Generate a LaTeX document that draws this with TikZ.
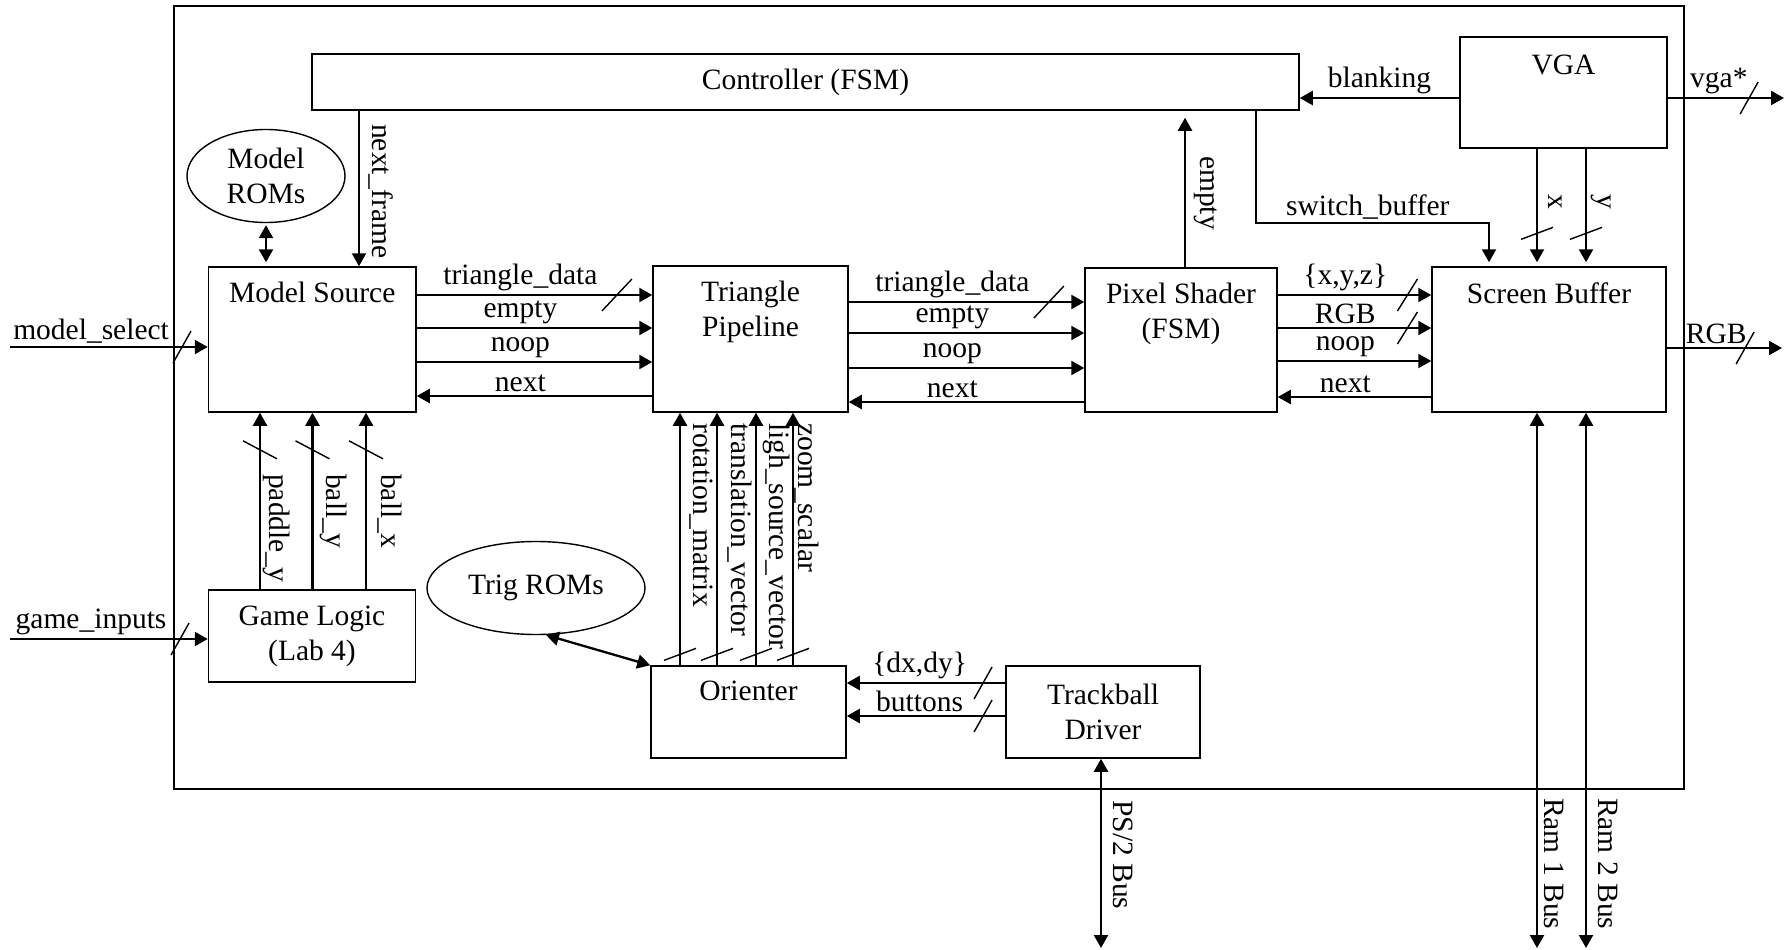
\documentclass[tikz,border=0pt]{standalone}
\usepackage{fontspec}
\setmainfont{Liberation Serif}
\usetikzlibrary{arrows.meta, positioning, shapes.geometric}
\tikzset{
  block/.style={rectangle, draw, line width=1.5pt, inner sep=0pt},
  rom/.style={ellipse, draw, line width=1.4pt, align=center, inner sep=0pt},
  top text/.style={anchor=north, yshift=-14pt, inner sep=2pt, align=center},
  arr/.style={-{Triangle[length=13pt, width=14pt]}, line width=2.3pt},
  biarr/.style={{Triangle[length=13pt, width=14pt]}-{Triangle[length=13pt, width=14pt]}, line width=2.3pt},
  sig/.style={above, inner sep=3pt},
  vsig/.style={rotate=-90, anchor=base west, inner sep=1pt},
  slash/.style={line width=1.4pt},
}
% bus marks: on a horizontal wire, on a vertical wire (/ and \)
\newcommand{\hbus}[2][9]{\draw[slash] (#2) ++(-#1,16) -- ++(2*#1,-32);}
\newcommand{\vbus}[1]{\draw[slash] (#1) ++(-16,6) -- ++(32,-12);}
\newcommand{\vbusb}[1]{\draw[slash] (#1) ++(-17,-9) -- ++(34,18);}

\begin{document}
\begin{tikzpicture}[x=1pt, y=-1pt, font=\fontsize{29.5}{35}\selectfont]
  \path[use as bounding box, fill=white] (0,0) rectangle (1792,950);

  % blocks
  \node[block, minimum width=1510, minimum height=783] (chip) at (929,397.5) {};
  \node[block, minimum width=987, minimum height=56] (ctrl) at (805.5,82) {Controller (FSM)};
  \node[block, minimum width=207, minimum height=111, label={[top text, yshift=-3pt]north:VGA}] (vga) at (1563.5,92.5) {};
  \node[block, minimum width=207.5, minimum height=145, label={[top text]north:Model Source}] (ms) at (312.25,339.5) {};
  \node[block, minimum width=195, minimum height=146, label={[top text]north:{Triangle\\Pipeline}}] (tp) at (750.5,339) {};
  \node[block, minimum width=192, minimum height=144, label={[top text]north:{Pixel Shader\\(FSM)}}] (ps) at (1181,340) {};
  \node[block, minimum width=234, minimum height=145, label={[top text]north:Screen Buffer}] (sb) at (1549,339.5) {};
  \node[block, minimum width=207, minimum height=92, align=center] (gl) at (312,636) {Game Logic\\(Lab 4)};
  \node[block, minimum width=195, minimum height=92, label={[top text]north:Orienter}] (ori) at (748.5,712) {};
  \node[block, minimum width=194, minimum height=92, align=center] (td) at (1103,712) {Trackball\\Driver};
  \node[rom, minimum width=158, minimum height=93] (mrom) at (266,176) {Model\\ROMs};
  \node[rom, minimum width=218, minimum height=93] (trom) at (536,588) {Trig ROMs};

  % free ends
  \coordinate (ms-in) at (10,347);
  \coordinate (gl-in) at (10,639);
  \coordinate (vga-out) at (1784,98);
  \coordinate (rgb-out) at (1782,348);
  \coordinate (sw-turn) at (1489,223);
  \coordinate (ps2-end) at (1101,948);
  \coordinate (ram1-end) at (1537,948);
  \coordinate (ram2-end) at (1586,948);

  % inputs
  \draw[arr] (ms-in) -- coordinate[pos=0.87] (b-ms) node[sig, pos=0.41] (l-ms) {model\_select} (ms.west |- ms-in);
  \hbus{b-ms}
  \draw[arr] (gl-in) -- coordinate[pos=0.86] (b-gl) node[sig, pos=0.41] (l-gl) {game\_inputs} (gl.west |- gl-in);
  \hbus{b-gl}

  % game logic -> model source
  \foreach \x/\wname/\off [count=\i] in {260/paddle\_y/9, 312.5/ball\_y/14, 366/ball\_x/15} {
    \draw[arr] (gl.north -| \x,0) -- coordinate[pos=0.79] (gb\i) (ms.south -| \x,0);
    \vbusb{gb\i}
    \node[vsig] (gsig\i) at (\x+\off,473) {\wname};
  }

  % orienter -> triangle pipeline
  \foreach \x/\wname/\off [count=\i] in {680/rotation\_matrix/13, 717/translation\_vector/14, 756/ligh\_source\_vector/13, 793/zoom\_scalar/5} {
    \draw[arr] (ori.north -| \x,0) -- coordinate[pos=0.043] (ob\i) (tp.south -| \x,0);
    \vbus{ob\i}
    \node[vsig] (osig\i) at (\x+\off,422) {\wname};
  }

  % model source -> triangle pipeline
  \draw[arr] (ms.east |- 0,295) -- coordinate[pos=0.85] (b-td1) node[sig, pos=0.44] (l-td1) {triangle\_data} (tp.west |- 0,295);
  \hbus[15]{b-td1}
  \draw[arr] (ms.east |- 0,328) -- node[sig, pos=0.44] (l-em1) {empty} (tp.west |- 0,328);
  \draw[arr] (ms.east |- 0,362) -- node[sig, pos=0.44] (l-no1) {noop} (tp.west |- 0,362);
  \draw[arr] (tp.west |- 0,396) -- node[sig, pos=0.56] (l-nx1) {next} (ms.east |- 0,396);

  % triangle pipeline -> pixel shader
  \draw[arr] (tp.east |- 0,302) -- coordinate[pos=0.85] (b-td2) node[sig, pos=0.44] (l-td2) {triangle\_data} (ps.west |- 0,302);
  \hbus[15]{b-td2}
  \draw[arr] (tp.east |- 0,333) -- node[sig, pos=0.44] (l-em2) {empty} (ps.west |- 0,333);
  \draw[arr] (tp.east |- 0,368) -- node[sig, pos=0.44] (l-no2) {noop} (ps.west |- 0,368);
  \draw[arr] (ps.west |- 0,402) -- node[sig, pos=0.56] (l-nx2) {next} (tp.east |- 0,402);

  % pixel shader -> screen buffer
  \draw[arr] (ps.east |- 0,295) -- coordinate[pos=0.845] (b-xyz) node[sig, pos=0.44] (l-xyz) {\{x,y,z\}} (sb.west |- 0,295);
  \hbus[10]{b-xyz}
  \draw[arr] (ps.east |- 0,328) -- coordinate[pos=0.845] (b-col) node[sig, pos=0.44] (l-col) {RGB} (sb.west |- 0,328);
  \hbus[10]{b-col}
  \draw[arr] (ps.east |- 0,361) -- node[sig, pos=0.44] (l-no3) {noop} (sb.west |- 0,361);
  \draw[arr] (sb.west |- 0,397) -- node[sig, pos=0.56] (l-nx3) {next} (ps.east |- 0,397);

  % controller
  \draw[arr] (ctrl.south -| 359,0) -- (ms.north -| 359,0);
  \node[vsig] (l-nf) at (372,123) {next\_frame};
  \draw[biarr, shorten <=2pt, shorten >=4pt] (mrom.south) -- (ms.north -| mrom.south);
  \draw[arr, shorten >=7pt] (ps.north -| 1185,0) -- (ctrl.south -| 1185,0);
  \node[vsig] (l-emc) at (1200,155) {empty};
  \draw[arr, shorten >=4pt] (ctrl.south -| 1256,0) |- node[sig, pos=0.74] (l-sw) {switch\_buffer} (sw-turn) -- (sb.north -| sw-turn);

  % vga
  \draw[arr] (vga.west |- vga-out) -- node[sig] (l-blk) {blanking} (ctrl.east |- vga-out);
  \draw[arr] (vga.east |- vga-out) -- coordinate[pos=0.70] (b-vga) node[sig, pos=0.44] (l-vga) {vga*} (vga-out);
  \hbus{b-vga}
  \foreach \x/\wname [count=\i] in {1537/x, 1586/y} {
    \draw[arr, shorten >=4pt] (vga.south -| \x,0) -- coordinate[pos=0.72] (vb\i) (sb.north -| \x,0);
    \vbus{vb\i}
    \node[vsig] (xy\i) at (\x+11,193) {\wname};
  }

  % screen buffer outputs
  \draw[arr] (sb.east |- rgb-out) -- coordinate[pos=0.68] (b-rgb) node[sig, pos=0.43] (l-rgb) {RGB} (rgb-out);
  \hbus{b-rgb}
  \draw[biarr] (sb.south -| ram1-end) -- (ram1-end);
  \node[vsig] (l-r1) at (1544,797) {Ram 1 Bus};
  \draw[biarr] (sb.south -| ram2-end) -- (ram2-end);
  \node[vsig] (l-r2) at (1598,797) {Ram 2 Bus};

  % trackball and orienter
  \draw[arr] (td.west |- 0,683) -- coordinate[pos=0.14] (b-dxy) node[sig, pos=0.54] (l-dxy) {\{dx,dy\}} (ori.east |- 0,683);
  \hbus{b-dxy}
  \draw[arr] (td.west |- 0,716) -- coordinate[pos=0.14] (b-btn) node[sig, pos=0.54] (l-btn) {buttons} (ori.east |- 0,716);
  \hbus{b-btn}
  \draw[biarr] (trom.-78) -- (ori.north west);
  \draw[biarr] (td.south -| ps2-end) -- (ps2-end);
  \node[vsig] (l-ps2) at (1113,799) {PS/2 Bus};
\end{tikzpicture}
\end{document}
